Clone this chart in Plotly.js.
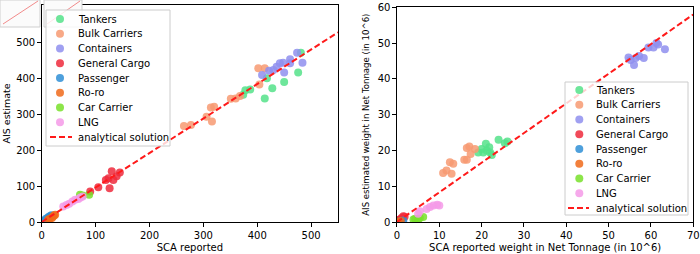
<!DOCTYPE html>
<html><head><meta charset="utf-8">
<script src="https://cdn.plot.ly/plotly-3.0.1.min.js"></script>
<style>body{margin:0;padding:0;background:#fff}#chart{width:700px;height:254px}</style>
</head><body><div id="chart"></div>
<script>
const categories = ["Tankers","Bulk Carriers","Containers","General Cargo","Passenger","Ro-ro","Car Carrier","LNG"];
const colors = ["#55e28a","#f79a72","#8f8fee","#ee2a3c","#2f8fd6","#f06a1a","#78e02a","#f59ae8"];
const lineName = "analytical solution";

// Left panel: SCA reported vs AIS estimate
const tankersX_L = [374, 378, 387, 414, 418, 428, 450, 476, 481];
const tankersY_L = [354, 367, 369, 344, 400, 372, 390, 416, 471];
const bulkX_L = [264, 277, 306, 314, 316, 320, 351, 360, 368, 402, 404, 414];
const bulkY_L = [267, 270, 293, 319, 280, 321, 343, 344, 351, 428, 383, 428];
const containersX_L = [409, 422, 430, 436, 442, 448, 450, 461, 461, 474, 484];
const containersY_L = [409, 421, 423, 432, 442, 443, 416, 453, 442, 471, 443];
const generalX_L = [90, 105, 119, 124, 126, 130, 133, 139, 145];
const generalY_L = [85, 97, 117, 122, 94, 141, 117, 127, 138];
const passengerX_L = [3, 8, 12, 15, 18];
const passengerY_L = [4, 9, 13, 16, 19];
const roroX_L = [12, 15, 19, 21, 23, 25];
const roroY_L = [6, 9, 11, 15, 18, 20];
const carX_L = [71, 76, 88];
const carY_L = [76, 74, 76];
const lngX_L = [40, 46, 51, 57, 62, 68, 72, 76];
const lngY_L = [43, 47, 51, 57, 62, 64, 68, 71];
const lineX_L = [0, 550];
const lineY_L = [0, 528];

// Right panel: net tonnage (in 10^6)
const tankersX_R = [19.2, 20.0, 20.4, 21.0, 21.2, 21.8, 22.0, 22.4, 24.0, 25.5, 26.1];
const tankersY_R = [19.4, 20.4, 19.4, 21.9, 20.0, 20.9, 19.4, 18.7, 23.0, 22.0, 22.5];
const bulkX_R = [10.9, 11.7, 12.5, 12.9, 13.3, 15.9, 16.5, 16.5, 17.1, 17.4, 18.4];
const bulkY_R = [13.7, 14.4, 16.7, 13.5, 16.3, 17.4, 17.4, 20.7, 21.1, 19.0, 20.4];
const containersX_R = [54.7, 55.2, 56.0, 56.4, 57.2, 58.3, 59.4, 60.6, 61.3, 61.7, 63.3];
const containersY_R = [46.0, 45.3, 43.9, 45.8, 46.4, 45.8, 48.8, 48.8, 50.0, 49.6, 48.3];
const generalX_R = [0.3, 0.7, 1.1, 1.5, 1.8];
const generalY_R = [0.5, 0.7, 1.1, 1.6, 1.5];
const passengerX_R = [0.7, 1.5];
const passengerY_R = [0.2, 0.4];
const roroX_R = [0.3, 0.9];
const roroY_R = [0.1, 0.3];
const carX_R = [3.9, 4.3, 5.0, 5.4, 6.2];
const carY_R = [0.7, 0.9, 0.7, 1.1, 1.4];
const lngX_R = [5.0, 5.4, 7.0, 7.8, 8.6, 9.5, 10.0];
const lngY_R = [2.3, 3.0, 3.6, 4.2, 4.6, 4.8, 4.6];
const lineX_R = [0, 70];
const lineY_R = [0, 58];

const seriesL = [[tankersX_L,tankersY_L],[bulkX_L,bulkY_L],[containersX_L,containersY_L],[generalX_L,generalY_L],[passengerX_L,passengerY_L],[roroX_L,roroY_L],[carX_L,carY_L],[lngX_L,lngY_L]];
const seriesR = [[tankersX_R,tankersY_R],[bulkX_R,bulkY_R],[containersX_R,containersY_R],[generalX_R,generalY_R],[passengerX_R,passengerY_R],[roroX_R,roroY_R],[carX_R,carY_R],[lngX_R,lngY_R]];

const FONT = "DejaVu Sans";
const LINE_COLOR = "#ff1a1a";
const DASH = "6px,3px";
const traces = [];
seriesL.forEach((s,i)=>traces.push({type:"scatter",mode:"markers",x:s[0],y:s[1],name:categories[i],
  marker:{color:colors[i],size:8,opacity:0.85},xaxis:"x",yaxis:"y"}));
traces.push({type:"scatter",mode:"lines",x:lineX_L,y:lineY_L,name:lineName,
  line:{color:LINE_COLOR,width:2,dash:DASH},xaxis:"x",yaxis:"y"});
seriesR.forEach((s,i)=>traces.push({type:"scatter",mode:"markers",x:s[0],y:s[1],name:categories[i],
  marker:{color:colors[i],size:8,opacity:0.85},xaxis:"x2",yaxis:"y2"}));
traces.push({type:"scatter",mode:"lines",x:lineX_R,y:lineY_R,name:lineName,
  line:{color:LINE_COLOR,width:2,dash:DASH},xaxis:"x2",yaxis:"y2"});

// Pixel -> paper helpers (plot area spans x 0..700, y 5..222)
const W = 700, T = 5, B = 222, H = B - T;
const px = v => v / W;
const py = v => (B - v) / H;

const shapes = [];
const annotations = [];

// Thumbnail artefacts at the top-left of the reference
[[0,40],[44,82]].forEach(([a,b])=>{
  shapes.push({type:"rect",xref:"paper",yref:"paper",x0:px(a),x1:px(b),y0:py(27),y1:py(0),fillcolor:"#fbfbfb",line:{color:"#cfcfcf",width:1},layer:"above"});
  shapes.push({type:"line",xref:"paper",yref:"paper",x0:px(a+3),x1:px(b-2),y0:py(24),y1:py(1),line:{color:"#f28b8b",width:1},layer:"above"});
});

// Manual legends (matplotlib-like spacing)
function buildLegend(box, markerX, textX, lineX0, lineX1, firstY, step) {
  shapes.push({type:"rect",xref:"paper",yref:"paper",x0:px(box[0]),x1:px(box[1]),y0:py(box[3]),y1:py(box[2]),
    fillcolor:"rgba(255,255,255,0.8)",line:{color:"#cccccc",width:1},layer:"above"});
  categories.forEach((c,i)=>{
    const y = firstY + step*i;
    shapes.push({type:"circle",xref:"paper",yref:"paper",xsizemode:"pixel",ysizemode:"pixel",
      xanchor:px(markerX),yanchor:py(y),x0:-4,x1:4,y0:-4,y1:4,fillcolor:colors[i],opacity:0.85,line:{width:0},layer:"above"});
    annotations.push({xref:"paper",yref:"paper",x:px(textX),y:py(y),xanchor:"left",yanchor:"middle",showarrow:false,
      text:c,font:{family:FONT,size:10,color:"#000"}});
  });
  const yl = firstY + step*categories.length;
  shapes.push({type:"line",xref:"paper",yref:"paper",x0:px(lineX0),x1:px(lineX1),y0:py(yl),y1:py(yl),
    line:{color:LINE_COLOR,width:2,dash:DASH},layer:"above"});
  annotations.push({xref:"paper",yref:"paper",x:px(textX),y:py(yl),xanchor:"left",yanchor:"middle",showarrow:false,
    text:lineName,font:{family:FONT,size:10,color:"#000"}});
}
buildLegend([46,170,10,146], 60, 76, 50, 72, 19, 14.75);
buildLegend([565,688,82,215], 579.3, 594, 568, 589, 90, 14.75);

const axBase = {showgrid:false,zeroline:false,showline:true,linecolor:"#000",linewidth:1,mirror:true,
  ticks:"outside",ticklen:3.5,tickcolor:"#000",tickfont:{family:FONT,size:10,color:"#000"}};

const layout = {
  width:700,height:254,paper_bgcolor:"#fff",plot_bgcolor:"#fff",
  margin:{l:0,r:0,t:T,b:254-B},showlegend:false,
  font:{family:FONT,size:10,color:"#000"},
  xaxis:Object.assign({},axBase,{domain:[0.0596,0.4829],range:[0,550],tickvals:[0,100,200,300,400,500],
    title:{text:"SCA reported",font:{family:FONT,size:10},standoff:4},anchor:"y"}),
  yaxis:Object.assign({},axBase,{domain:[0,1],range:[0,604],tickvals:[0,100,200,300,400,500],
    title:{text:"AIS estimate",font:{family:FONT,size:9.5},standoff:3},anchor:"x"}),
  xaxis2:Object.assign({},axBase,{domain:[0.5671,0.9904],range:[0,70],tickvals:[0,10,20,30,40,50,60,70],
    title:{text:"SCA reported weight in Net Tonnage (in 10^6)",font:{family:FONT,size:10},standoff:4},anchor:"y2"}),
  yaxis2:Object.assign({},axBase,{domain:[0,0.9894],range:[0,60],tickvals:[0,10,20,30,40,50,60],
    title:{text:"AIS estimated weight in Net Tonnage (in 10^6)",font:{family:FONT,size:8.6},standoff:6},anchor:"x2"}),
  shapes:shapes,
  annotations:annotations
};
Plotly.newPlot("chart",traces,layout,{displayModeBar:false,staticPlot:true});
</script></body></html>
